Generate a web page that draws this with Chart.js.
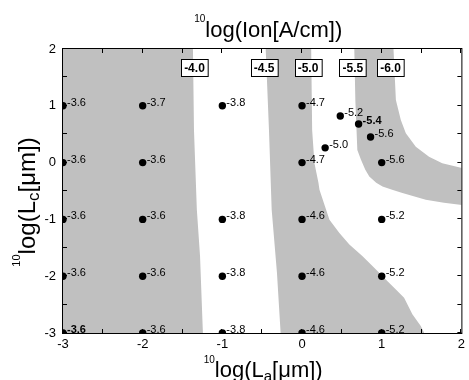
<!DOCTYPE html>
<html><head><meta charset="utf-8">
<style>html,body{margin:0;padding:0;background:#fff;}canvas{display:block;}</style>
<script src="https://cdn.jsdelivr.net/npm/chart.js@4.4.1/dist/chart.umd.min.js"></script>
</head><body>
<canvas id="c" width="469" height="380"></canvas>
<script>
// ---------- data ----------
const laValues  = [-3,-3,-3,-3,-3, -2,-2,-2,-2,-2, -1,-1,-1,-1, 0,0,0,0,0, 1,1,1,1, 0.48,0.71,0.86,0.29];
const lcValues  = [1,0,-1,-2,-3,   1,0,-1,-2,-3,   1,-1,-2,-3,   1,0,-1,-2,-3, 0,-1,-2,-3, 0.82,0.68,0.45,0.26];
const ionValues = [-3.6,-3.6,-3.6,-3.6,-3.6, -3.7,-3.6,-3.6,-3.6,-3.6, -3.8,-3.8,-3.8,-3.8,
                   -4.7,-4.7,-4.6,-4.6,-4.6, -5.6,-5.2,-5.2,-5.2, -5.2,-5.4,-5.6,-5.0];

// shaded bands (closed outlines, La / Lc)
const band1La = [-3.2,-1.372,-1.369,-1.356,-1.32,-1.28,-1.244,-1.24,-3.2];
const band1Lc = [ 2.2, 2.2,   2,     0.57, -0.83,-1.65,-3,   -3.2,-3.2];
const band2La = [-0.46,-0.456,-0.415,-0.381,-0.315,-0.269,-0.265,1.535,1.531,1.49,1.385,1.281,1.178,1.073,0.928,0.76,0.594,0.469,0.344,0.219,0.206,0.156,0.127,0.115,0.113];
const band2Lc = [ 2.2,  2,     0.574,-0.83, -1.935,-2.993,-3.2, -3.2, -2.993,-2.877,-2.672,-2.379,-2.233,-2.088,-1.882,-1.649,-1.444,-1.239,-1.005,-0.479,-0.356,-0.01,0.574,2,2.2];
const band3La = [0.652,0.656,0.669,0.694,0.74,0.794,0.844,0.931,1.01,1.131,1.26,1.553,1.781,2.02,2.2, 2.2,2.019,1.76,1.594,1.428,1.303,1.24,1.178,1.148,1.145];
const band3Lc = [2.2,  2,    1.10, 0.223,0.048,-0.128,-0.246,-0.356,-0.421,-0.479,-0.537,-0.654,-0.707,-0.75,-0.78, -0.12,-0.098,-0.011,0.105,0.281,0.516,0.749,1.10,2,2.2];

// contour labels
const contourLevels = ['-4.0','-4.5','-5.0','-5.5','-6.0'];
const contourLa     = [-1.35,-0.475,0.075,0.6375,1.11];
const contourLc     = [1.67,1.67,1.67,1.67,1.67];

// axis ticks
const xTickValues = [-3,-2,-1,0,1,2];
const yTickValues = [-3,-2,-1,0,1,2];
const xMinorTicks = [-3,-2.5,-2,-1.5,-1,-0.5,0,0.5,1,1.5,2];
const yMinorTicks = [-3,-2.5,-2,-1.5,-1,-0.5,0,0.5,1,1.5,2];

// ---------- rendering ----------
const FONT = 'Arial, "Liberation Sans", sans-serif';
const GRAY = '#c0c0c0';
const boldLabelIdx = [4, 24];

const toXY = (xs, ys) => xs.map((x, i) => ({x, y: ys[i]}));
const bandDs = (xs, ys) => ({
  data: toXY(xs, ys), showLine: true, fill: 'shape', backgroundColor: GRAY,
  borderWidth: 0, borderColor: 'rgba(0,0,0,0)', pointRadius: 0, tension: 0, order: 2
});

function richWidth(ctx, parts) {
  let w = 0;
  for (const p of parts) { ctx.font = p.size + 'px ' + FONT; w += ctx.measureText(p.text).width; }
  return w;
}
function richDraw(ctx, parts, x, y) {
  let cx = x;
  for (const p of parts) {
    ctx.font = p.size + 'px ' + FONT;
    ctx.fillText(p.text, cx, y + (p.dy || 0));
    cx += ctx.measureText(p.text).width;
  }
}

const decor = {
  id: 'decor',
  afterDatasetsDraw(chart) {
    const ctx = chart.ctx, a = chart.chartArea, xs = chart.scales.x, ys = chart.scales.y;
    ctx.save();
    // inward ticks
    ctx.strokeStyle = '#000'; ctx.lineWidth = 1;
    ctx.beginPath();
    for (const v of xMinorTicks) {
      const px = Math.round(xs.getPixelForValue(v)) - 0.5;
      ctx.moveTo(px, a.bottom); ctx.lineTo(px, a.bottom - 4);
      ctx.moveTo(px, a.top); ctx.lineTo(px, a.top + 4);
    }
    for (const v of yMinorTicks) {
      const py = Math.round(ys.getPixelForValue(v)) - 0.5;
      ctx.moveTo(a.left, py); ctx.lineTo(a.left + 4, py);
      ctx.moveTo(a.right, py); ctx.lineTo(a.right - 4, py);
    }
    ctx.stroke();
    // frame
    ctx.strokeRect(a.left - 0.5, a.top - 0.5, a.right - a.left + 1, a.bottom - a.top + 1);

    // point labels
    const meta = chart.getDatasetMeta(3);
    ctx.fillStyle = '#000'; ctx.textBaseline = 'alphabetic'; ctx.textAlign = 'left';
    meta.data.forEach((pt, i) => {
      ctx.font = (boldLabelIdx.includes(i) ? 'bold ' : '') + '11px ' + FONT;
      ctx.fillText(ionValues[i].toFixed(1), pt.x + 4, pt.y);
    });

    // contour label boxes
    ctx.font = 'bold 12px ' + FONT;
    ctx.textAlign = 'center'; ctx.textBaseline = 'middle';
    contourLevels.forEach((t, i) => {
      const cx = xs.getPixelForValue(contourLa[i]), cy = ys.getPixelForValue(contourLc[i]);
      const w = ctx.measureText(t).width + 6, h = 17;
      const bx = Math.round(cx - w / 2) + 0.5, by = Math.round(cy - h / 2) + 0.5;
      ctx.fillStyle = '#fff'; ctx.fillRect(bx, by, w, h);
      ctx.strokeStyle = '#000'; ctx.strokeRect(bx, by, w, h);
      ctx.fillStyle = '#000'; ctx.fillText(t, cx, cy + 1);
    });
    ctx.restore();
  },
  afterDraw(chart) {
    const ctx = chart.ctx, a = chart.chartArea;
    ctx.save();
    ctx.fillStyle = '#000'; ctx.textAlign = 'left'; ctx.textBaseline = 'alphabetic';
    // top title
    const t = [{text:'10', size:10, dy:-15}, {text:'log(Ion[A/cm])', size:22}];
    richDraw(ctx, t, (a.left + a.right) / 2 + 6 - richWidth(ctx, t) / 2, 37);
    // x title
    const xt = [{text:'10', size:10, dy:-14}, {text:'log(L', size:22}, {text:'a', size:15, dy:4}, {text:'[\u03bcm])', size:22}];
    richDraw(ctx, xt, (a.left + a.right) / 2 + 1 - richWidth(ctx, xt) / 2, 377);
    // y title
    const yt = [{text:'10', size:11, dy:-15}, {text:'log(L', size:24}, {text:'c', size:17, dy:4}, {text:'[\u03bcm])', size:24}];
    ctx.translate(35, 202); ctx.rotate(-Math.PI / 2);
    richDraw(ctx, yt, -richWidth(ctx, yt) / 2, 0);
    ctx.restore();
  }
};

new Chart(document.getElementById('c'), {
  type: 'scatter',
  data: {
    datasets: [
      bandDs(band1La, band1Lc),
      bandDs(band2La, band2Lc),
      bandDs(band3La, band3Lc),
      { data: toXY(laValues, lcValues), backgroundColor: '#000', borderColor: '#000',
        pointRadius: 3.7, pointBorderWidth: 0, clip: 0, order: 1 }
    ]
  },
  options: {
    responsive: false, animation: false, devicePixelRatio: 1,
    layout: { padding: { left: 0, right: 6, top: 49, bottom: 0 } },
    plugins: { legend: { display: false }, tooltip: { enabled: false }, title: { display: false } },
    scales: {
      x: {
        type: 'linear', min: -3, max: 2,
        afterFit: s => { s.height = 47; },
        afterBuildTicks: s => { s.ticks = xTickValues.map(v => ({value: v})); },
        ticks: { color: '#000', font: { family: FONT, size: 13 }, padding: 4, maxRotation: 0, autoSkip: false },
        grid: { display: false, drawTicks: false }, border: { display: false }
      },
      y: {
        type: 'linear', min: -3, max: 2,
        afterFit: s => { s.width = 63; },
        afterBuildTicks: s => { s.ticks = yTickValues.map(v => ({value: v})); },
        ticks: { color: '#000', font: { family: FONT, size: 13 }, padding: 7, autoSkip: false },
        grid: { display: false, drawTicks: false }, border: { display: false }
      }
    }
  },
  plugins: [decor]
});
</script>
</body></html>
